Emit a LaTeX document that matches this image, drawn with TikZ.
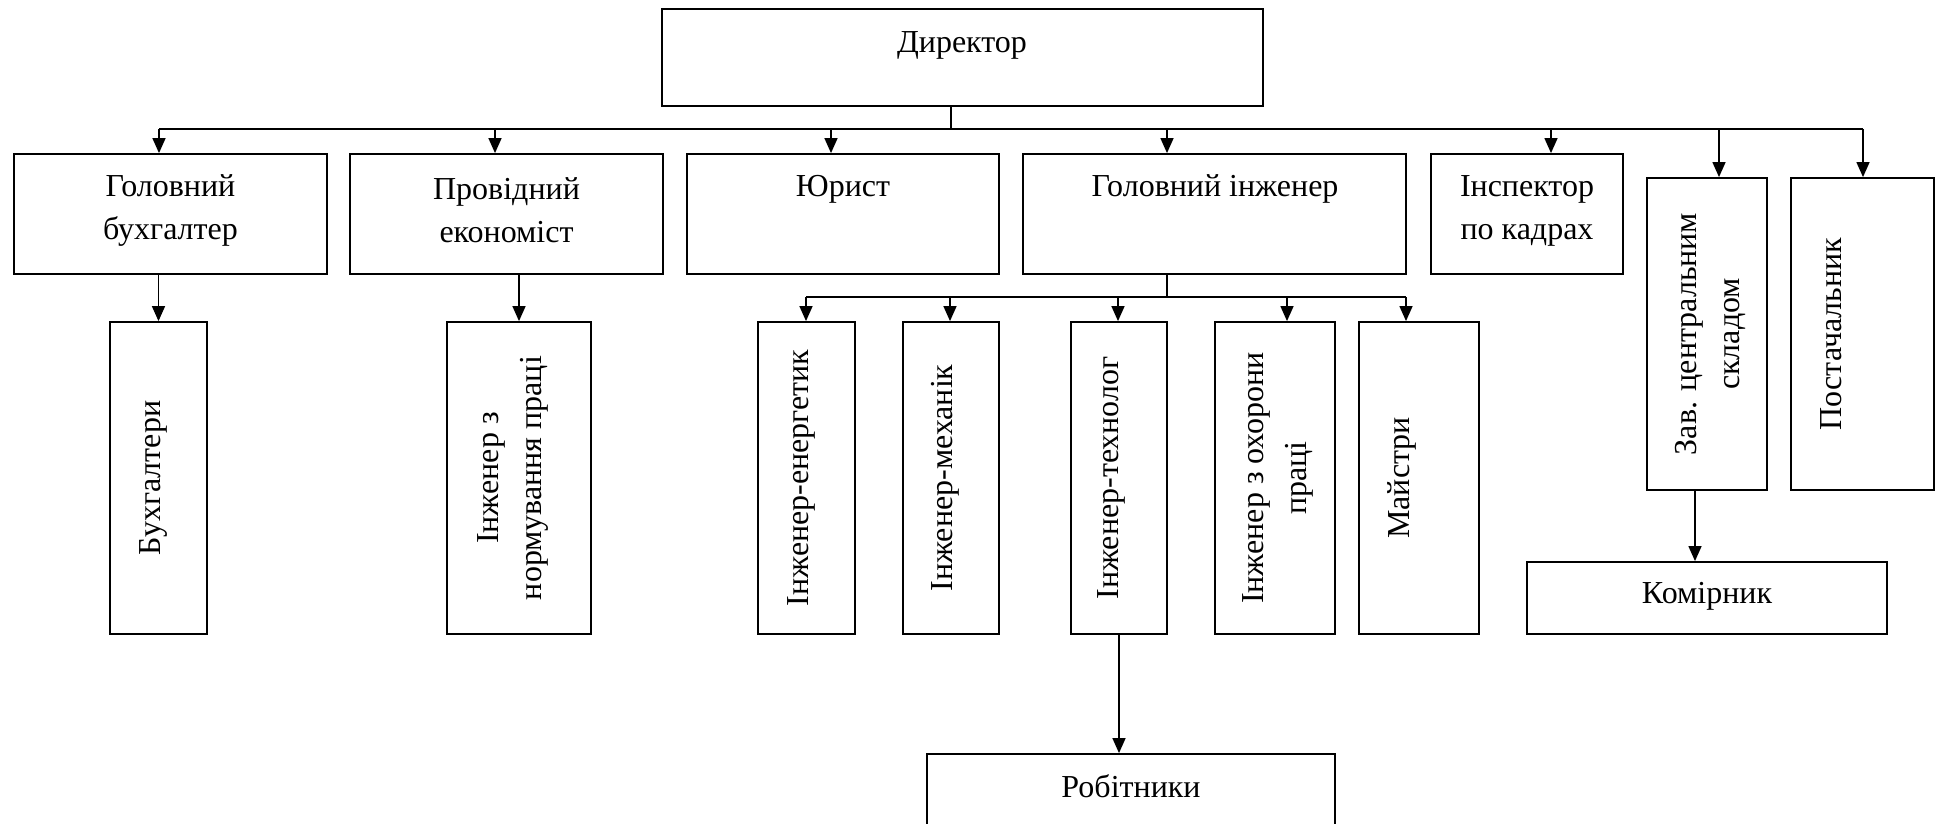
\documentclass[tikz,border=0pt]{standalone}
\usepackage{fontspec}
\setmainfont{Liberation Serif}
\usetikzlibrary{arrows.meta}
\begin{document}
\begin{tikzpicture}[x=0.5pt,y=-0.5pt,
  box/.style={draw, line width=0.9pt, inner sep=0pt, rectangle},
  txt/.style={font=\fontsize{16}{21.5}\selectfont, align=center, inner sep=0pt},
  vtxt/.style={txt, rotate=90},
  ln/.style={line width=0.7pt},
  arr/.style={line width=0.7pt, -{Triangle[length=7.5pt,width=6.5pt]}}]
\clip (0,0) rectangle (1935,824);
% top
\node[box, minimum width=300.5pt, minimum height=48.5pt] (dir) at (962.5,57.5) {};
\node[txt] (dirt) at (962,45) {Директор};
% row 1
\node[box, minimum width=156.5pt, minimum height=60pt] (gb) at (170.5,214) {};
\node[txt] (gbt) at (170.5,210.5) {Головний\\бухгалтер};
\node[box, minimum width=156.5pt, minimum height=60pt] (pe) at (506.5,214) {};
\node[txt] (pet) at (506.5,210.5) {Провідний\\економіст};
\node[box, minimum width=156pt, minimum height=60pt] (yu) at (843,214) {};
\node[txt] (yut) at (843,189) {Юрист};
\node[box, minimum width=191.5pt, minimum height=60pt] (gi) at (1214.5,214) {};
\node[txt] (git) at (1215,189) {Головний інженер};
\node[box, minimum width=96pt, minimum height=60pt] (ik) at (1527,214) {};
\node[txt] (ikt) at (1527,210.5) {Інспектор\\по кадрах};
\node[box, minimum width=60pt, minimum height=156pt] (zav) at (1707,334) {};
\node[vtxt] (zavt) at (1710,334) {Зав. центральним\\складом};
\node[box, minimum width=71.5pt, minimum height=156pt] (pos) at (1862.5,334) {};
\node[vtxt] (post) at (1831,334) {Постачальник};
% row 2
\node[box, minimum width=48.5pt, minimum height=156pt] (bh) at (158.5,478) {};
\node[vtxt] (bht) at (153,478) {Бухгалтери};
\node[box, minimum width=72pt, minimum height=156pt] (nm) at (519,478) {};
\node[vtxt] (nmt) at (513,478) {Інженер з\\нормування праці};
\node[box, minimum width=48.5pt, minimum height=156pt] (en) at (806.5,478) {};
\node[vtxt] (ent) at (801,478) {Інженер-енергетик};
\node[box, minimum width=48pt, minimum height=156pt] (me) at (951,478) {};
\node[vtxt] (met) at (945,478) {Інженер-механік};
\node[box, minimum width=48pt, minimum height=156pt] (te) at (1119,478) {};
\node[vtxt] (tet) at (1111,478) {Інженер-технолог};
\node[box, minimum width=60pt, minimum height=156pt] (oh) at (1275,478) {};
\node[vtxt] (oht) at (1278,478) {Інженер з охорони\\праці};
\node[box, minimum width=60pt, minimum height=156pt] (ma) at (1419,478) {};
\node[vtxt] (mat) at (1402,478) {Майстри};
\node[box, minimum width=180pt, minimum height=36pt] (ko) at (1707,598) {};
\node[txt] (kot) at (1707,596) {Комірник};
\node[box, minimum width=204pt, minimum height=45pt] (rb) at (1131,799) {};
\node[txt] (rbt) at (1131,786) {Робітники};
% main bus
\coordinate (dj) at (951,129);
\coordinate (a1) at (159,129);
\coordinate (a2) at (495,129);
\coordinate (a3) at (831,129);
\coordinate (a4) at (1167,129);
\coordinate (a5) at (1551,129);
\coordinate (a6) at (1719,129);
\coordinate (a7) at (1863,129);
\draw[ln] (dir.south -| dj) -- (dj);
\draw[ln] (a1) -- (a7);
\draw[arr] (a1) -- (a1 |- gb.north);
\draw[arr] (a2) -- (a2 |- pe.north);
\draw[arr] (a3) -- (a3 |- yu.north);
\draw[arr] (a4) -- (a4 |- gi.north);
\draw[arr] (a5) -- (a5 |- ik.north);
\draw[arr] (a6) -- (a6 |- zav.north);
\draw[arr] (a7) -- (a7 |- pos.north);
% engineer bus
\coordinate (sj) at (1167,297);
\coordinate (s1) at (806,297);
\coordinate (s2) at (950,297);
\coordinate (s3) at (1118,297);
\coordinate (s4) at (1287,297);
\coordinate (s5) at (1406,297);
\draw[ln] (gi.south -| sj) -- (sj);
\draw[ln] (s1) -- (s5);
\draw[arr] (s1) -- (s1 |- en.north);
\draw[arr] (s2) -- (s2 |- me.north);
\draw[arr] (s3) -- (s3 |- te.north);
\draw[arr] (s4) -- (s4 |- oh.north);
\draw[arr] (s5) -- (s5 |- ma.north);
% others
\draw[arr] (bh.north |- gb.south) -- (bh.north);
\draw[arr] (nm.north |- pe.south) -- (nm.north);
\draw[arr] (te.south) -- (te.south |- rb.north);
\coordinate (zk) at (1695,500);
\draw[arr] (zk |- zav.south) -- (zk |- ko.north);
\end{tikzpicture}
\end{document}
